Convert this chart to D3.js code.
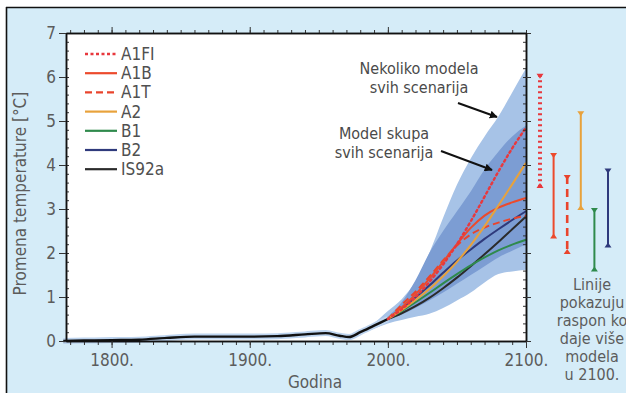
<!DOCTYPE html>
<html>
<head>
<meta charset="utf-8">
<script src="https://cdn.jsdelivr.net/npm/d3@7"></script>
<style>
  html, body { margin: 0; padding: 0; background: #fff; }
  svg { display: block; }
  text { font-family: "Liberation Sans Narrow", "Arial Narrow", "DejaVu Sans Condensed", "Liberation Sans", sans-serif; }
</style>
</head>
<body>
<script>
// Observed temperature change since pre-industrial time
const histYears  = [1765, 1780, 1800, 1820, 1840, 1860, 1880, 1900, 1920, 1940, 1955, 1965, 1972, 1980, 1990, 2000];
const histValues = [0.00, 0.01, 0.02, 0.03, 0.07, 0.10, 0.10, 0.10, 0.11, 0.15, 0.18, 0.12, 0.09, 0.20, 0.35, 0.50];

// SRES scenario projections, 2000-2100
const scenYears = [2000, 2010, 2020, 2030, 2040, 2050, 2060, 2070, 2080, 2090, 2100];
const a1fi  = [0.50, 0.72, 1.00, 1.34, 1.74, 2.20, 2.72, 3.28, 3.85, 4.38, 4.85];
const a1b   = [0.50, 0.76, 1.06, 1.41, 1.80, 2.20, 2.57, 2.85, 3.03, 3.15, 3.25];
const a1t   = [0.50, 0.82, 1.12, 1.46, 1.83, 2.17, 2.42, 2.58, 2.69, 2.78, 2.85];
const a2    = [0.50, 0.70, 0.93, 1.18, 1.47, 1.80, 2.18, 2.61, 3.08, 3.56, 4.05];
const b1    = [0.50, 0.68, 0.88, 1.09, 1.31, 1.52, 1.72, 1.90, 2.06, 2.19, 2.30];
const b2    = [0.50, 0.74, 0.99, 1.26, 1.55, 1.83, 2.08, 2.32, 2.54, 2.75, 2.95];
const is92a = [0.50, 0.63, 0.79, 0.98, 1.20, 1.44, 1.70, 1.97, 2.25, 2.54, 2.83];

const scenarioNames  = ["A1FI", "A1B", "A1T", "A2", "B1", "B2", "IS92a"];
const scenarioValues = [a1fi, a1b, a1t, a2, b1, b2, is92a];

// Envelope of several models, all scenarios
const outerYears = [1970, 1980, 1990, 2000, 2010, 2020, 2030, 2040, 2050, 2060, 2070, 2080, 2090, 2100];
const outerHigh  = [0.11, 0.24, 0.41, 0.68, 0.95, 1.35, 2.00, 2.80, 3.55, 4.15, 4.65, 5.10, 5.65, 6.20];
const outerLow   = [0.07, 0.16, 0.28, 0.40, 0.48, 0.55, 0.62, 0.75, 0.92, 1.10, 1.33, 1.52, 1.58, 1.62];

// Model ensemble, all scenarios
const innerYears = [2000, 2010, 2020, 2030, 2040, 2050, 2060, 2070, 2080, 2090, 2100];
const innerHigh  = [0.55, 0.88, 1.38, 2.00, 2.50, 2.95, 3.40, 3.90, 4.30, 4.65, 4.90];
const innerLow   = [0.47, 0.60, 0.75, 0.92, 1.10, 1.30, 1.50, 1.70, 1.90, 2.05, 2.20];

// Range of several models in 2100, per scenario
const rangeNames = ["A1FI", "A1B", "A1T", "A2", "B1", "B2"];
const rangeLow   = [3.50, 2.35, 2.00, 3.00, 1.60, 2.15];
const rangeHigh  = [6.05, 4.25, 3.75, 5.20, 3.00, 3.90];

const yTicks = [0, 1, 2, 3, 4, 5, 6, 7];
const xTicks = [1800, 1900, 2000, 2100];
const xTickLabels = ["1800.", "1900.", "2000.", "2100."];

const styles = {
  "A1FI":  { color: "#e8383d", dash: "2,3.2", width: 2.4 },
  "A1B":   { color: "#ec4a2c", dash: null,    width: 2.0 },
  "A1T":   { color: "#e9442c", dash: "7,4",   width: 2.0 },
  "A2":    { color: "#e8a23c", dash: null,    width: 2.0 },
  "B1":    { color: "#2f8a4c", dash: null,    width: 2.0 },
  "B2":    { color: "#2f3a7c", dash: null,    width: 2.0 },
  "IS92a": { color: "#2b2b2b", dash: null,    width: 2.0 }
};

const W = 626, H = 393;
const svg = d3.select("body").append("svg").attr("width", W).attr("height", H);

// panel background and frame
svg.append("rect").attr("x", 6).attr("y", 7).attr("width", W - 6).attr("height", H - 7).attr("fill", "#d5ecf8");
svg.append("line").attr("x1", 6).attr("x2", W).attr("y1", 7.5).attr("y2", 7.5).attr("stroke", "#111").attr("stroke-width", 1.6);
svg.append("line").attr("x1", 6.5).attr("x2", 6.5).attr("y1", 7).attr("y2", H).attr("stroke", "#111").attr("stroke-width", 1.6);

const x = d3.scaleLinear().domain([1767, 2100]).range([66, 526]);
const y = d3.scaleLinear().domain([0, 7]).range([341, 33]);

svg.append("rect").attr("x", x(1767)).attr("y", y(7)).attr("width", x(2100) - x(1767)).attr("height", y(0) - y(7)).attr("fill", "#fff");

const area = (xs, lo, hi) => d3.area()
  .x((d, i) => x(xs[i])).y0((d, i) => y(lo[i])).y1((d, i) => y(hi[i]))
  .curve(d3.curveMonotoneX)(xs);

// uncertainty bands
svg.append("path").attr("d", area(outerYears, outerLow, outerHigh)).attr("fill", "#a7c3e7");
svg.append("path").attr("d", area(innerYears, innerLow, innerHigh)).attr("fill", "#7c9dd3");

// observed record with a faint halo
const line = (xs, vs) => d3.line().x((d, i) => x(xs[i])).y((d, i) => y(vs[i])).curve(d3.curveMonotoneX)(xs);
svg.append("path").attr("d", line(histYears, histValues)).attr("fill", "none").attr("stroke", "#bcd3ee").attr("stroke-width", 6);
svg.append("path").attr("d", line(histYears, histValues)).attr("fill", "none").attr("stroke", "#111").attr("stroke-width", 2.4);

// scenario curves (drawn back to front)
const drawOrder = ["IS92a", "B1", "B2", "A1T", "A1B", "A2", "A1FI"];
drawOrder.forEach(name => {
  const s = styles[name];
  const vals = scenarioValues[scenarioNames.indexOf(name)];
  svg.append("path").attr("d", line(scenYears, vals))
    .attr("fill", "none").attr("stroke", s.color).attr("stroke-width", s.width)
    .attr("stroke-dasharray", s.dash).attr("stroke-linecap", name === "A1FI" ? "round" : "butt");
});

// axes
const axisG = svg.append("g").attr("class", "axes");
function styleAxis(g) {
  g.select(".domain").attr("stroke", "#111").attr("stroke-width", 1.5);
  g.selectAll(".tick line").attr("stroke", "#333").attr("stroke-width", 1);
  g.selectAll("text").attr("fill", "#5c5c5c").attr("font-size", 17);
}
const yMinor = d3.range(0, 7.01, 0.2).map(v => +v.toFixed(1));
const xMinor = d3.range(1770, 2101, 10);

axisG.append("g").attr("transform", `translate(${x(1767)},0)`)
  .call(d3.axisLeft(y).tickValues(yMinor).tickSize(-3).tickFormat("").tickSizeOuter(0)).call(styleAxis);
axisG.append("g").attr("transform", `translate(${x(1767)},0)`)
  .call(d3.axisLeft(y).tickValues(yTicks).tickSize(7).tickPadding(3).tickFormat(d3.format("d")).tickSizeOuter(0)).call(styleAxis);

axisG.append("g").attr("transform", `translate(${x(2100)},0)`)
  .call(d3.axisRight(y).tickValues(yMinor).tickSize(-3).tickFormat("").tickSizeOuter(0)).call(styleAxis);
axisG.append("g").attr("transform", `translate(${x(2100)},0)`)
  .call(d3.axisRight(y).tickValues(yTicks).tickSize(5).tickFormat("").tickSizeOuter(0)).call(styleAxis);

axisG.append("g").attr("transform", `translate(0,${y(7)})`)
  .call(d3.axisTop(x).tickValues(xMinor).tickSize(3).tickFormat("").tickSizeOuter(0)).call(styleAxis);
axisG.append("g").attr("transform", `translate(0,${y(7)})`)
  .call(d3.axisTop(x).tickValues([1800, 1900, 2000]).tickSize(6).tickFormat("").tickSizeOuter(0)).call(styleAxis);

axisG.append("g").attr("transform", `translate(0,${y(0)})`)
  .call(d3.axisBottom(x).tickValues(xMinor).tickSize(4).tickFormat("").tickSizeOuter(0)).call(styleAxis);
axisG.append("g").attr("transform", `translate(0,${y(0)})`)
  .call(d3.axisBottom(x).tickValues(xTicks).tickSize(7).tickPadding(6)
    .tickFormat((d, i) => xTickLabels[i]).tickSizeOuter(0)).call(styleAxis);

// axis titles
svg.append("text").attr("transform", `translate(26,${y(3.35)}) rotate(-90)`)
  .attr("text-anchor", "middle").attr("fill", "#5c5c5c").attr("font-size", 17)
  .text("Promena temperature [°C]");
svg.append("text").attr("x", 315).attr("y", 388).attr("text-anchor", "middle")
  .attr("fill", "#5c5c5c").attr("font-size", 17).text("Godina");

// legend
const legend = svg.append("g");
scenarioNames.forEach((name, i) => {
  const s = styles[name];
  const ly = 54 + i * 19.2;
  legend.append("line").attr("x1", 85).attr("x2", 117).attr("y1", ly).attr("y2", ly)
    .attr("stroke", s.color).attr("stroke-width", name === "A1FI" ? 2.6 : 2.2)
    .attr("stroke-dasharray", name === "A1FI" ? "3,2.5" : (name === "A1T" ? "7,4" : null));
  legend.append("text").attr("x", 121).attr("y", ly + 6).attr("fill", "#505050")
    .attr("font-size", 17).text(name);
});

// annotations
const ann = svg.append("g").attr("fill", "#4a4a4a").attr("font-size", 16).attr("text-anchor", "middle");
ann.append("text").attr("x", 419).attr("y", 74).text("Nekoliko modela");
ann.append("text").attr("x", 419).attr("y", 93).text("svih scenarija");
ann.append("text").attr("x", 384).attr("y", 139).text("Model skupa");
ann.append("text").attr("x", 384).attr("y", 158).text("svih scenarija");

svg.append("defs").append("marker").attr("id", "arrowhead")
  .attr("viewBox", "0 0 10 10").attr("refX", 9).attr("refY", 5)
  .attr("markerWidth", 4).attr("markerHeight", 4).attr("orient", "auto")
  .append("path").attr("d", "M0,0 L10,5 L0,10 Z").attr("fill", "#111");
svg.append("line").attr("x1", 458).attr("y1", 103).attr("x2", 497).attr("y2", 117)
  .attr("stroke", "#111").attr("stroke-width", 2).attr("marker-end", "url(#arrowhead)");
svg.append("line").attr("x1", 441).attr("y1", 151).attr("x2", 492).attr("y2", 170)
  .attr("stroke", "#111").attr("stroke-width", 2).attr("marker-end", "url(#arrowhead)");

// 2100 model ranges
const rx = d3.scalePoint().domain(rangeNames).range([540, 608]);
rangeNames.forEach((name, i) => {
  const s = styles[name];
  const cx = rx(name);
  const top = y(rangeHigh[i]), bot = y(rangeLow[i]);
  svg.append("line").attr("x1", cx).attr("x2", cx).attr("y1", top).attr("y2", bot)
    .attr("stroke", s.color)
    .attr("stroke-width", name === "A1FI" ? 4 : (name === "A1T" ? 2.6 : 2))
    .attr("stroke-dasharray", name === "A1FI" ? "2,3.5" : (name === "A1T" ? "8,5" : null));
  svg.append("path").attr("d", `M${cx - 3.5},${top - 1} L${cx + 3.5},${top - 1} L${cx},${top + 4} Z`).attr("fill", s.color);
  svg.append("path").attr("d", `M${cx - 3.5},${bot + 1} L${cx + 3.5},${bot + 1} L${cx},${bot - 4} Z`).attr("fill", s.color);
});

const note = svg.append("g").attr("fill", "#5c5c5c").attr("font-size", 16).attr("text-anchor", "middle");
["Linije", "pokazuju", "raspon koji", "daje više", "modela", "u 2100."].forEach((t, i) => {
  note.append("text").attr("x", i === 2 ? 596 : 592).attr("y", 290 + i * 18).text(t);
});
</script>
</body>
</html>
